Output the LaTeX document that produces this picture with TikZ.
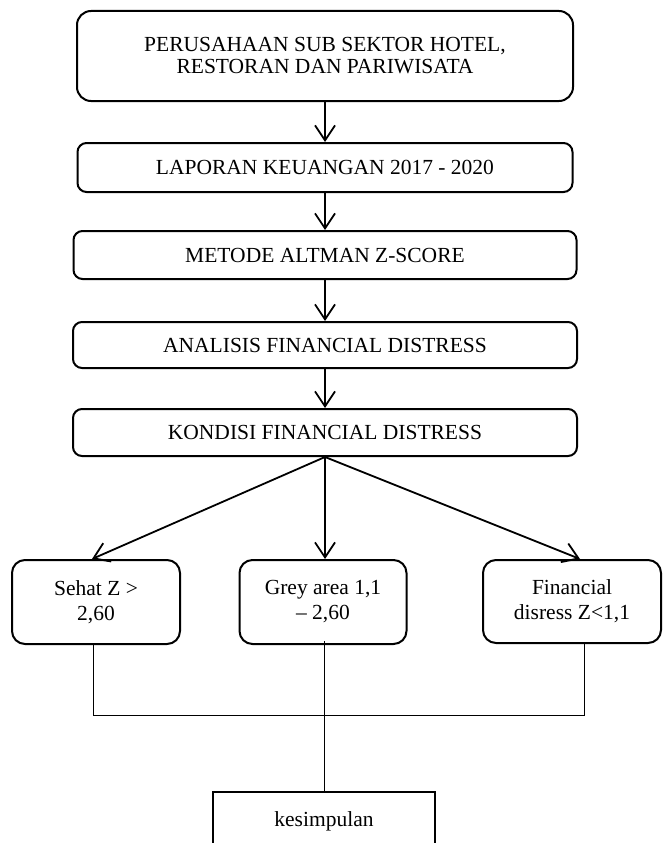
\documentclass[tikz,border=0pt]{standalone}
\usepackage{fontspec}
\setmainfont{Liberation Serif}
\usetikzlibrary{arrows.meta}
\begin{document}
\begin{tikzpicture}[x=1pt,y=-1pt,
  mainbox/.style={draw=black,line width=2pt,rounded corners=9pt,align=center,inner sep=0pt,
    font=\fontsize{21.5}{22}\selectfont},
  sidebox/.style={draw=black,line width=2pt,rounded corners=13pt,align=center,inner sep=0pt,
    minimum width=168pt,minimum height=84pt,font=\fontsize{21.5}{25}\selectfont},
  arr/.style={line width=1.8pt,-{Straight Barb[length=15pt,width=20pt,line width=1.8pt]}},
  thin/.style={line width=0.9pt}]
\useasboundingbox (0,0) rectangle (662,843);
\fill[white] (0,0) rectangle (662,843);
\node[mainbox,rounded corners=14pt,minimum width=496pt,minimum height=90pt] (b1) at (325,56)
  {PERUSAHAAN SUB SEKTOR HOTEL,\\RESTORAN DAN PARIWISATA};
\node[mainbox,minimum width=495pt,minimum height=49pt] (b2) at (325,167.5) {LAPORAN KEUANGAN 2017 - 2020};
\node[mainbox,minimum width=503pt,minimum height=48pt] (b3) at (325,255) {METODE ALTMAN Z-SCORE};
\node[mainbox,minimum width=504pt,minimum height=46pt] (b4) at (325,345) {ANALISIS FINANCIAL DISTRESS};
\node[mainbox,minimum width=504pt,minimum height=47pt] (b5) at (325,432.5) {KONDISI FINANCIAL DISTRESS};
\node[sidebox] (s1) at (96,602) {Sehat Z >\\2,60};
\node[sidebox,minimum width=167pt] (s2) at (323,602) {Grey area 1,1\\– 2,60};
\node[sidebox,minimum width=178pt,minimum height=83pt] (s3) at (572,601.5) {Financial\\disress Z<1,1};
\node[draw=black,line width=2pt,minimum width=222pt,minimum height=58pt,inner sep=0pt,
  font=\fontsize{21.5}{25}\selectfont] (k) at (324,821) {kesimpulan};
\draw[arr] (b1.south) -- (b2.north);
\draw[arr] (b2.south) -- (b3.north);
\draw[arr] (b3.south) -- (b4.north);
\draw[arr] (b4.south) -- (b5.north);
\draw[arr] (b5.south) -- (s2.north -| b5.south);
\draw[arr] (b5.south) -- ([xshift=-4pt]s1.north);
\draw[arr] (b5.south) -- ([xshift=8pt]s3.north);
\coordinate (jl) at (93,715);
\coordinate (jr) at (584,715);
\draw[thin] ([yshift=2pt]s1.south -| jl) -- (jl) -- (jr) -- ([yshift=2pt]s3.south -| jr);
\draw[thin] ([yshift=4pt]s2.south -| k.north) -- (k.north);
\end{tikzpicture}
\end{document}
